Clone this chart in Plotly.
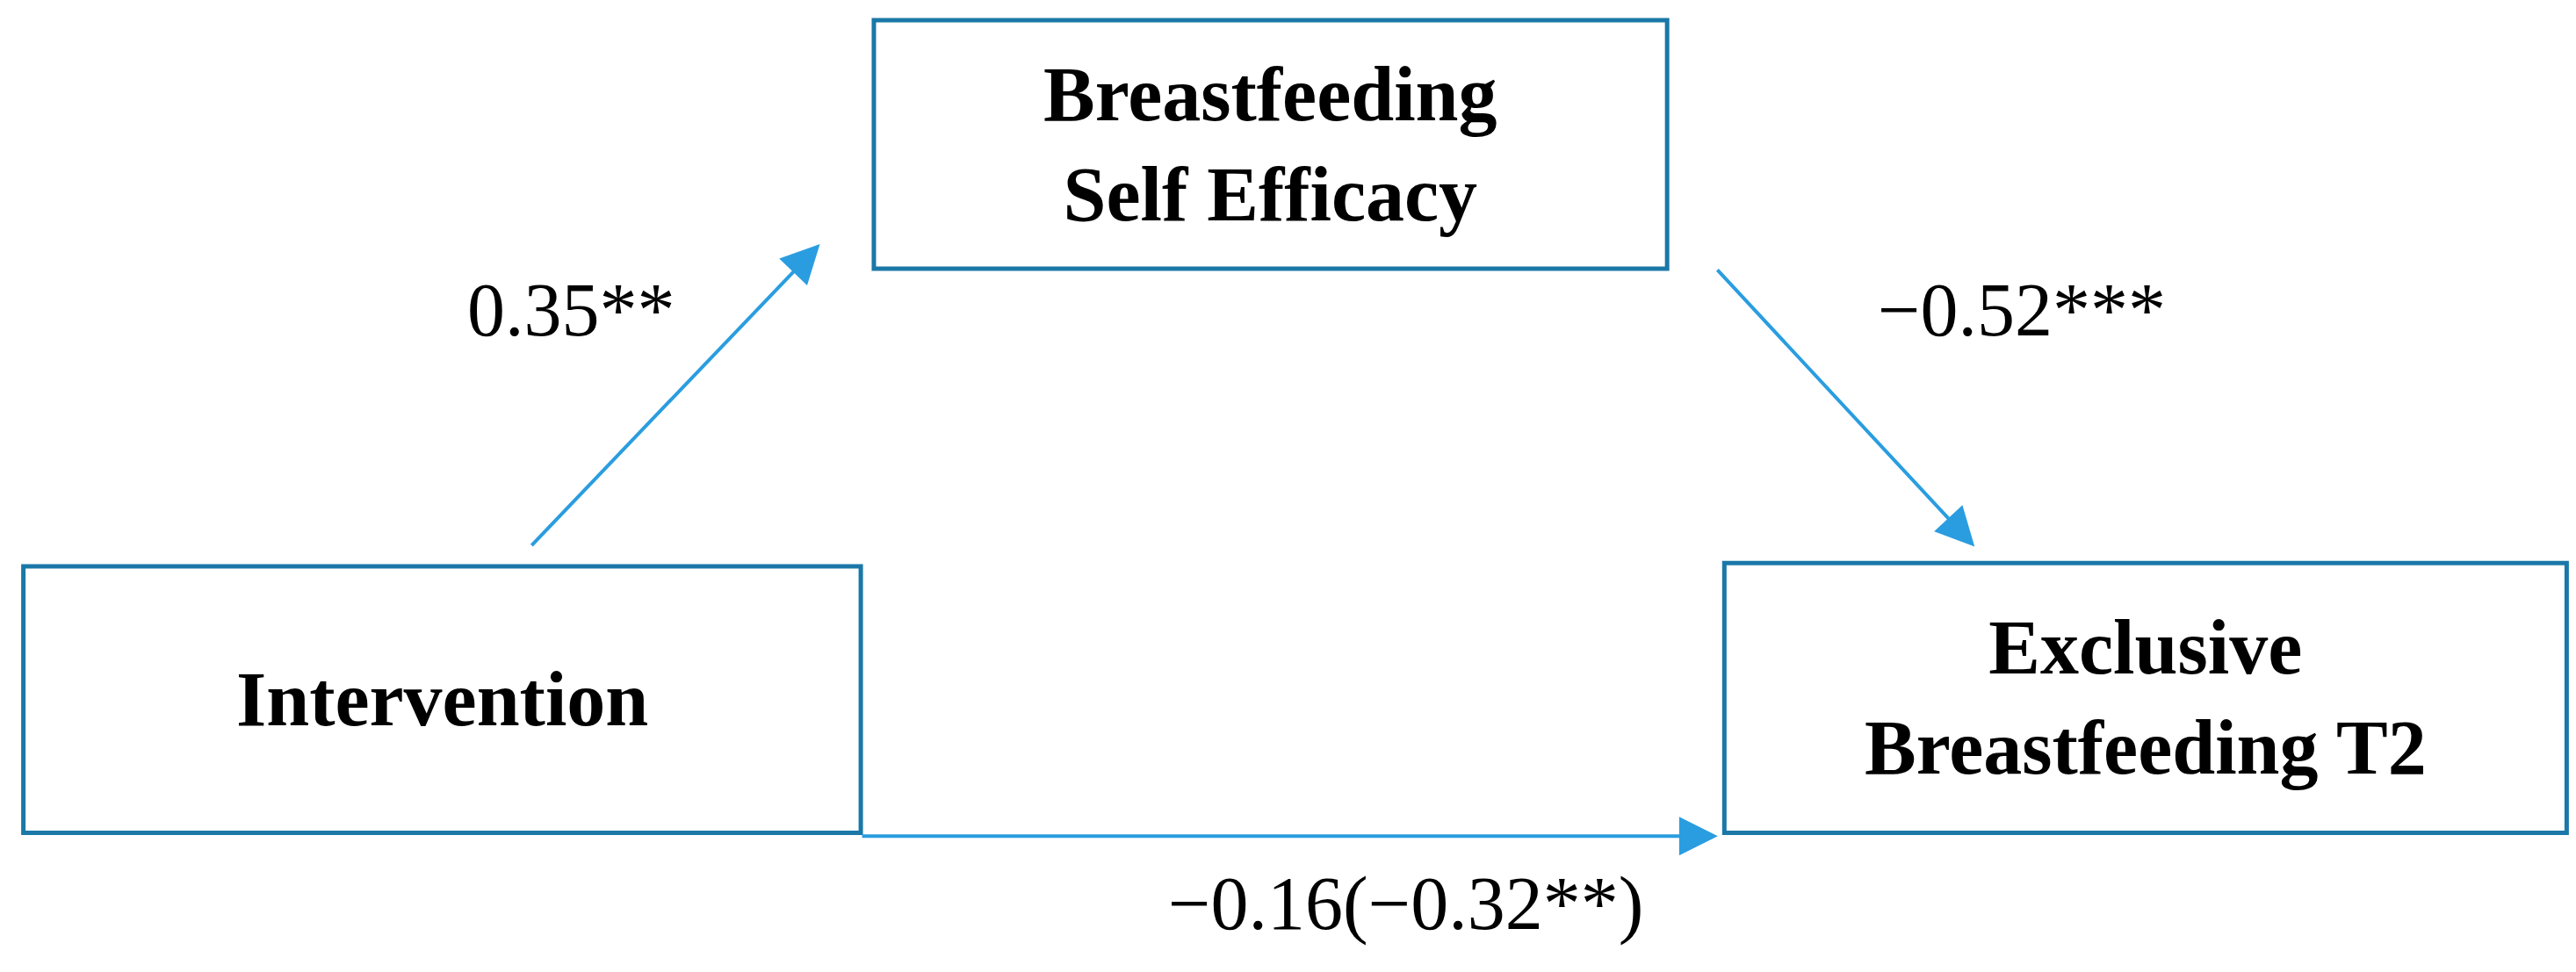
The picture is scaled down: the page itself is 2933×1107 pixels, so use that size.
import plotly.graph_objects as go

W, H = 2933, 1107
S = W / 1575.0
XR, YR = 1575.0, H / S

node_labels = ["<b>Intervention</b>", "<b>Breastfeeding<br>Self Efficacy</b>", "<b>Exclusive<br>Breastfeeding T2</b>"]
path_labels = ["0.35**", "\u22120.52***", "\u22120.16(\u22120.32**)"]

boxes = [(10, 342, 522, 505), (530, 8, 1015, 160), (1050, 340, 1565, 505)]
arrows = [((320, 330), (497, 145)), ((1045, 160), (1203, 330)), ((522, 507), (1046, 507))]
label_pos = [(345, 185), (1232, 185), (855, 548)]

BOX_C = "#1a78a8"
ARR_C = "#2a9de0"
FONT = "Liberation Serif, Times New Roman, serif"

fig = go.Figure()
for (x0, y0, x1, y1), lab in zip(boxes, node_labels):
    fig.add_shape(type="rect", x0=x0, y0=y0, x1=x1, y1=y1, line=dict(color=BOX_C, width=5), fillcolor="white")
    fig.add_annotation(x=(x0 + x1) / 2, y=(y0 + y1) / 2, text=lab, showarrow=False,
                       font=dict(family=FONT, size=88, color="black"))
for (t, h) in arrows:
    fig.add_annotation(x=h[0], y=h[1], ax=t[0], ay=t[1], xref="x", yref="y", axref="x", ayref="y",
                       text="", showarrow=True, arrowhead=2, arrowsize=2.2, arrowwidth=4, arrowcolor=ARR_C)
for (x, y), lab in zip(label_pos, path_labels):
    fig.add_annotation(x=x, y=y, text=lab, showarrow=False, font=dict(family=FONT, size=86, color="black"))

fig.update_xaxes(range=[0, XR], visible=False)
fig.update_yaxes(range=[YR, 0], visible=False)
fig.update_layout(width=W, height=H, margin=dict(l=0, r=0, t=0, b=0),
                  plot_bgcolor="white", paper_bgcolor="white", showlegend=False)
fig.write_html("out.html")
